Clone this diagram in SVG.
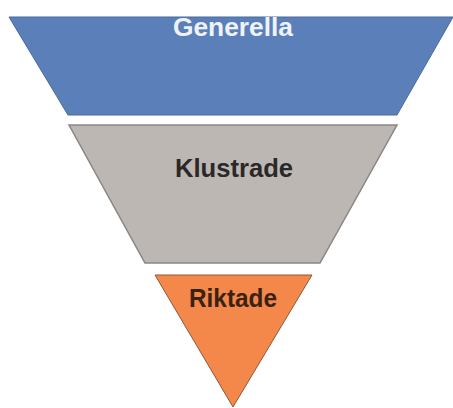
<svg xmlns="http://www.w3.org/2000/svg" width="453" height="408" viewBox="0 0 453 408">
<style>
.lbl{font-family:"Liberation Sans",Arial,sans-serif;font-weight:bold;font-size:26px;text-anchor:middle}
</style>
<rect width="453" height="408" fill="#ffffff"/>
<g id="generella">
<polygon points="9,17 453,17 397,115 68,115" fill="#5b7fb8" stroke="#4a6a9c" stroke-width="1"/>
<text class="lbl" x="233" y="36" fill="#eef3fa" textLength="120" lengthAdjust="spacingAndGlyphs">Generella</text>
</g>
<g id="klustrade">
<polygon points="69,125 397,125 320,263 145,263" fill="#bdb7b4" stroke="#8a8684" stroke-width="1.5"/>
<text class="lbl" x="234" y="177" fill="#2a2828" textLength="118" lengthAdjust="spacingAndGlyphs">Klustrade</text>
</g>
<g id="riktade">
<polygon points="155,275 312,275 233,407" fill="#f4874a" stroke="#8a5a3a" stroke-width="1"/>
<text class="lbl" x="233" y="307" fill="#3a2214" textLength="88" lengthAdjust="spacingAndGlyphs">Riktade</text>
</g>
<g id="connectors"/>
</svg>
